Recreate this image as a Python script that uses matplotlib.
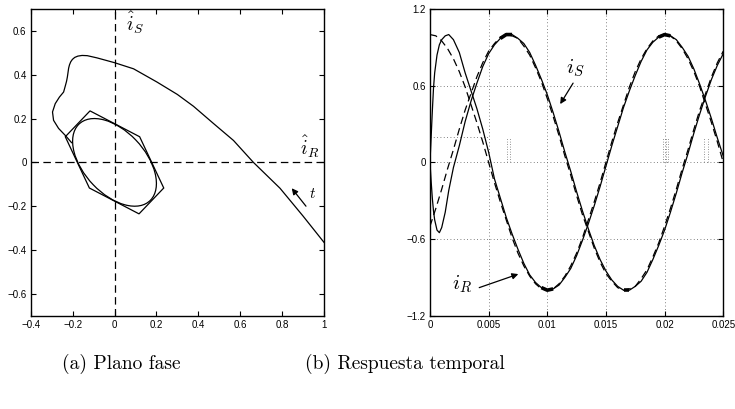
import matplotlib
matplotlib.use('Agg')
import matplotlib.pyplot as plt
from matplotlib.patches import Ellipse, Polygon

plt.rcParams['mathtext.fontset'] = 'cm'
plt.rcParams['font.family'] = ['Liberation Sans', 'DejaVu Sans']

# ---- (a) phase plane data ----
traj_x = [1.00, 0.90, 0.79, 0.663, 0.568, 0.473, 0.377, 0.30, 0.202, 0.091, 0.0,
          -0.084, -0.13, -0.155, -0.175, -0.19, -0.201, -0.209, -0.215, -0.219,
          -0.222, -0.225, -0.229, -0.234, -0.243, -0.263, -0.283, -0.296, -0.291,
          -0.267, -0.232, -0.205]
traj_y = [-0.365, -0.245, -0.118, 0.0, 0.10, 0.177, 0.256, 0.31, 0.367, 0.427, 0.455,
          0.477, 0.487, 0.488, 0.485, 0.479, 0.47, 0.459, 0.445, 0.43,
          0.41, 0.39, 0.37, 0.352, 0.321, 0.298, 0.268, 0.23, 0.192,
          0.155, 0.12, 0.09]
hex_x = [-0.117, 0.12, 0.235, 0.117, -0.12, -0.235]
hex_y = [0.235, 0.117, -0.117, -0.235, -0.117, 0.117]
cycle_width = 0.487
cycle_height = 0.288
cycle_angle = -45

# ---- (b) time response data ----
t_ref = [i * 0.0005 for i in range(51)]
iR_ref = [1.00, 0.99, 0.95, 0.89, 0.81, 0.71, 0.59, 0.45, 0.31, 0.16, 0.00,
          -0.16, -0.31, -0.45, -0.59, -0.71, -0.81, -0.89, -0.95, -0.99, -1.00,
          -0.99, -0.95, -0.89, -0.81, -0.71, -0.59, -0.45, -0.31, -0.16, 0.00,
          0.16, 0.31, 0.45, 0.59, 0.71, 0.81, 0.89, 0.95, 0.99, 1.00,
          0.99, 0.95, 0.89, 0.81, 0.71, 0.59, 0.45, 0.31, 0.16, 0.00]
iS_ref = [-0.50, -0.36, -0.21, -0.05, 0.10, 0.26, 0.41, 0.54, 0.67, 0.78, 0.87,
          0.93, 0.98, 1.00, 0.99, 0.97, 0.91, 0.84, 0.74, 0.63, 0.50,
          0.36, 0.21, 0.05, -0.10, -0.26, -0.41, -0.54, -0.67, -0.78, -0.87,
          -0.93, -0.98, -1.00, -0.99, -0.97, -0.91, -0.84, -0.74, -0.63, -0.50,
          -0.36, -0.21, -0.05, 0.10, 0.26, 0.41, 0.54, 0.67, 0.78, 0.87]

t_start = [0, 0.0001, 0.0002, 0.0003, 0.0004, 0.0006, 0.0008, 0.001, 0.0013,
           0.0016, 0.002, 0.0025, 0.003, 0.0035, 0.004, 0.0045, 0.005]
t_meas = t_start + [0.005 + i * 0.0005 for i in range(1, 41)]
iR_meas = [0.0, 0.2, 0.4, 0.58, 0.7, 0.84, 0.92, 0.96, 0.99, 1.0, 0.96, 0.86, 0.70,
           0.56, 0.42, 0.26, 0.08,
           -0.13, -0.28, -0.43, -0.56, -0.68, -0.79, -0.88, -0.94, -0.98, -1.00,
           -0.99, -0.96, -0.90, -0.83, -0.73, -0.61, -0.48, -0.34, -0.19, -0.03,
           0.13, 0.28, 0.43, 0.56, 0.68, 0.79, 0.88, 0.94, 0.98, 1.00,
           0.99, 0.96, 0.90, 0.83, 0.73, 0.61, 0.48, 0.34, 0.19, 0.05]
iS_meas = [0.0, -0.15, -0.28, -0.38, -0.45, -0.53, -0.55, -0.51, -0.39, -0.22, -0.04,
           0.13, 0.32, 0.48, 0.62, 0.75, 0.85,
           0.92, 0.97, 1.00, 1.00, 0.97, 0.93, 0.86, 0.76, 0.65, 0.53,
           0.39, 0.24, 0.08, -0.07, -0.23, -0.38, -0.52, -0.65, -0.76, -0.85,
           -0.92, -0.97, -1.00, -1.00, -0.97, -0.93, -0.86, -0.76, -0.65, -0.53,
           -0.39, -0.24, -0.08, 0.07, 0.23, 0.38, 0.52, 0.65, 0.76, 0.85]

# time windows where the measured currents chatter around the peaks
chatter_R = [(0.0094, 0.0106), (0.0195, 0.0205)]
chatter_S = [(0.0058, 0.0074), (0.0162, 0.0174)]

# stray dotted marks in the original figure
stray_t = [0.0066, 0.0068, 0.0199, 0.0201, 0.0203, 0.0234, 0.0237]

fig = plt.figure(figsize=(7.35, 4.09), dpi=100)
ax1 = fig.add_axes([0.0418, 0.228, 0.399, 0.750])
ax2 = fig.add_axes([0.585, 0.228, 0.399, 0.750])

dash = (0, (6, 3.5))

# phase plane
ax1.axhline(0, color='k', lw=0.9, linestyle=dash)
ax1.axvline(0, color='k', lw=0.9, linestyle=dash)
ax1.plot(traj_x, traj_y, color='k', lw=0.9)
ax1.add_patch(Polygon(list(zip(hex_x, hex_y)), closed=True, fill=False,
                      edgecolor='k', lw=0.9))
ax1.add_patch(Ellipse((0, 0), cycle_width, cycle_height, angle=cycle_angle,
                      fill=False, edgecolor='k', lw=0.9))
ax1.set_xlim(-0.4, 1)
ax1.set_ylim(-0.7, 0.7)
ax1.set_xticks([-0.4, -0.2, 0, 0.2, 0.4, 0.6, 0.8, 1])
ax1.set_xticklabels(['−0.4', '−0.2', '0', '0.2', '0.4', '0.6', '0.8', '1'])
ax1.set_yticks([-0.6, -0.4, -0.2, 0, 0.2, 0.4, 0.6])
ax1.set_yticklabels(['−0.6', '−0.4', '−0.2', '0', '0.2', '0.4', '0.6'])
ax1.text(0.098, 0.64, r'$\hat{i}_S$', fontsize=14, ha='center', va='center')
ax1.text(0.933, 0.07, r'$\hat{i}_R$', fontsize=14, ha='center', va='center')
ax1.text(0.945, -0.145, r'$t$', fontsize=11, ha='center', va='center')
ax1.annotate('', xy=(0.846, -0.118), xytext=(0.914, -0.2),
             arrowprops=dict(arrowstyle='-|>', color='k', lw=0.9,
                             mutation_scale=9, shrinkA=0, shrinkB=0))

# time response
ax2.grid(True, color='0.35', linestyle=(0, (1, 3)), lw=0.6)
ax2.plot([0, 0.005], [0.2, 0.2], color='0.35', linestyle=(0, (1, 3)), lw=0.6)
for ts in stray_t:
    ax2.plot([ts, ts], [0, 0.2], color='0.45', linestyle=(0, (1, 2)), lw=0.6)
ax2.plot(t_ref, iR_ref, color='k', lw=0.9, linestyle=dash)
ax2.plot(t_ref, iS_ref, color='k', lw=0.9, linestyle=dash)
ax2.plot(t_meas, iR_meas, color='k', lw=0.9)
ax2.plot(t_meas, iS_meas, color='k', lw=0.9)
for series, windows in ((iR_meas, chatter_R), (iS_meas, chatter_S)):
    for a, b in windows:
        seg = [(t, v) for t, v in zip(t_meas, series) if a - 1e-9 <= t <= b + 1e-9]
        ax2.plot([s[0] for s in seg], [s[1] for s in seg], color='k', lw=2.6,
                 solid_capstyle='butt')
ax2.set_xlim(0, 0.025)
ax2.set_ylim(-1.2, 1.2)
ax2.set_xticks([0, 0.005, 0.01, 0.015, 0.02, 0.025])
ax2.set_xticklabels(['0', '0.005', '0.01', '0.015', '0.02', '0.025'])
ax2.set_yticks([-1.2, -0.6, 0, 0.6, 1.2])
ax2.set_yticklabels(['−1.2', '−0.6', '0', '0.6', '1.2'])
ax2.text(0.0124, 0.74, r'$i_S$', fontsize=15, ha='center', va='center')
ax2.annotate('', xy=(0.0111, 0.456), xytext=(0.0122, 0.62),
             arrowprops=dict(arrowstyle='-|>', color='k', lw=0.9,
                             mutation_scale=9, shrinkA=0, shrinkB=0))
ax2.text(0.0027, -0.95, r'$i_R$', fontsize=15, ha='center', va='center')
ax2.annotate('', xy=(0.00753, -0.874), xytext=(0.0042, -0.98),
             arrowprops=dict(arrowstyle='-|>', color='k', lw=0.9,
                             mutation_scale=9, shrinkA=0, shrinkB=0))

for ax in (ax1, ax2):
    ax.tick_params(direction='in', top=True, right=True, length=3.5,
                   width=0.8, labelsize=7, pad=3)
    for sp in ax.spines.values():
        sp.set_linewidth(1.0)

fig.text(0.165, 0.110, '(a) Plano fase', fontsize=14, family='cmr10',
         ha='center', va='center')
fig.text(0.551, 0.110, '(b) Respuesta temporal', fontsize=14, family='cmr10',
         ha='center', va='center')

fig.savefig('out.png', dpi=100)
